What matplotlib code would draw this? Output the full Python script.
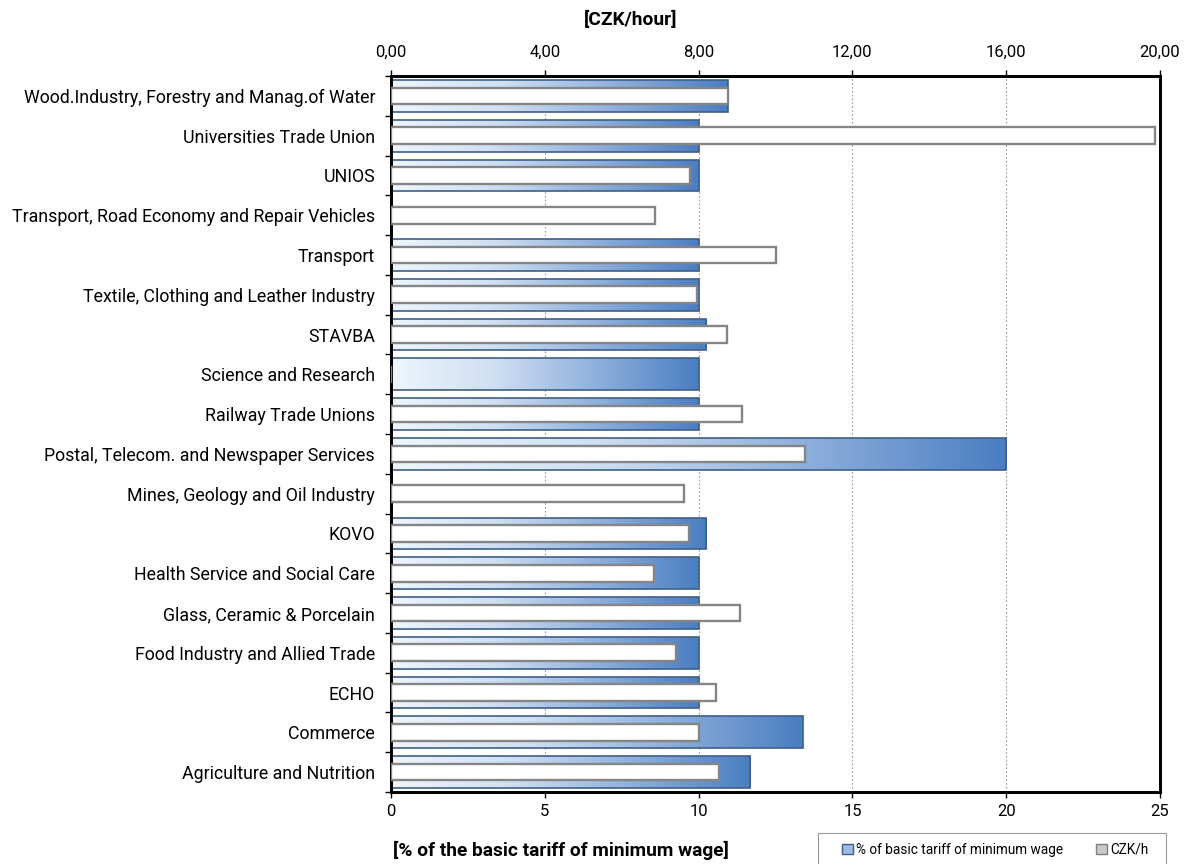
import numpy as np
import matplotlib
matplotlib.use("Agg")
from matplotlib import pyplot as plt
from matplotlib.colors import LinearSegmentedColormap
from matplotlib.patches import Patch, Rectangle
from matplotlib.ticker import FuncFormatter, FixedLocator

plt.rcParams['font.family'] = ['Roboto', 'DejaVu Sans']

categories = [
    "Wood.Industry, Forestry and Manag.of Water",
    "Universities Trade Union",
    "UNIOS",
    "Transport, Road Economy and Repair Vehicles",
    "Transport",
    "Textile, Clothing and Leather Industry",
    "STAVBA",
    "Science and Research",
    "Railway Trade Unions",
    "Postal, Telecom. and Newspaper Services",
    "Mines, Geology and Oil Industry",
    "KOVO",
    "Health Service and Social Care",
    "Glass, Ceramic & Porcelain",
    "Food Industry and Allied Trade",
    "ECHO",
    "Commerce",
    "Agriculture and Nutrition",
]
# % of basic tariff of minimum wage (bottom axis), 0 = no bar
pct_values = [10.95, 10, 10, 0, 10, 10, 10.25, 10, 10, 20, 0, 10.25, 10, 10, 10, 10, 13.38, 11.68]
# CZK per hour (top axis), 0 = no bar
czk_values = [8.77, 19.87, 7.78, 6.87, 10.0, 7.97, 8.73, 0, 9.14, 10.78, 7.63, 7.75, 6.84, 9.08, 7.41, 8.44, 8.01, 8.54]

fig = plt.figure(figsize=(11.9, 8.64), dpi=100)
ax = fig.add_axes([391 / 1190, 72 / 864, 769 / 1190, 716 / 864])

n = len(categories)
ypos = np.arange(n)
grad = LinearSegmentedColormap.from_list("bl", ["#eef5fd", "#cfdff2", "#8fb0dc", "#4a7ec2"])
gimg = np.linspace(0, 1, 256).reshape(1, -1)

bars = ax.barh(ypos, pct_values, height=0.8, color="none", edgecolor="#3f5f88", linewidth=1.2, zorder=3)
for b, v in zip(bars, pct_values):
    if v <= 0:
        b.set_visible(False)
        continue
    y0 = b.get_y()
    im = ax.imshow(gimg, cmap=grad, aspect="auto", extent=(0, v, y0 + b.get_height(), y0), zorder=2)
    im.set_clip_path(b)

ax.set_xlim(0, 25)
ax.set_ylim(n - 0.5, -0.5)
ax.set_xticks([0, 5, 10, 15, 20, 25])
ax.tick_params(axis="x", labelsize=12, length=4, width=1, direction="out", pad=5)
ax.set_yticks(ypos)
ax.set_yticklabels(categories, fontsize=12.8)
ax.yaxis.set_minor_locator(FixedLocator(np.arange(-0.5, n, 1)))
ax.tick_params(axis="y", which="major", length=0, pad=11.5)
ax.tick_params(axis="y", which="minor", length=4, width=1)
for x in [5, 10, 15, 20]:
    ax.axvline(x, color="#999999", linestyle=(0, (1.5, 2)), linewidth=0.8, zorder=1)
for s in ax.spines.values():
    s.set_linewidth(2)
    s.set_color("black")

ax2 = ax.twiny()
ax2.barh(ypos, czk_values, height=0.42, color="white", edgecolor="#858585", linewidth=1.7, zorder=4)
ax2.set_xlim(0, 20)
ax2.set_xticks([0, 4, 8, 12, 16, 20])
ax2.xaxis.set_major_formatter(FuncFormatter(lambda v, p: f"{v:.2f}".replace(".", ",")))
ax2.tick_params(axis="x", labelsize=12, length=4, width=1, pad=8)
for s in ax2.spines.values():
    s.set_linewidth(2)
ax2.set_ylim(n - 0.5, -0.5)

fig.text(631 / 1190, 1 - 20 / 864, "[CZK/hour]", fontsize=13.8, fontweight="bold", ha="center", va="center")
fig.text(561 / 1190, 1 - 850 / 864, "[% of the basic tariff of minimum wage]", fontsize=13.8,
         fontweight="bold", ha="center", va="center")

# legend frame drawn separately so it can have a wider side padding
fig.patches.append(Rectangle((818 / 1190, -0.05), 348 / 1190, 0.05 + 31 / 864, transform=fig.transFigure,
                             facecolor="white", edgecolor="#999999", linewidth=0.8))
handles = [Patch(facecolor="#9dbbe3", edgecolor="#3f5f88"),
           Patch(facecolor="#c8c8c8", edgecolor="#7f7f7f")]
fig.legend(handles, ["% of basic tariff of minimum wage", "CZK/h"], loc="center left",
           bbox_to_anchor=(842 / 1190, 1 - 850 / 864), ncol=2, fontsize=9.8, frameon=False,
           handlelength=0.8, handleheight=0.8, handletextpad=0.25, columnspacing=2.4,
           borderpad=0, borderaxespad=0)

fig.savefig("out.png", dpi=100)
